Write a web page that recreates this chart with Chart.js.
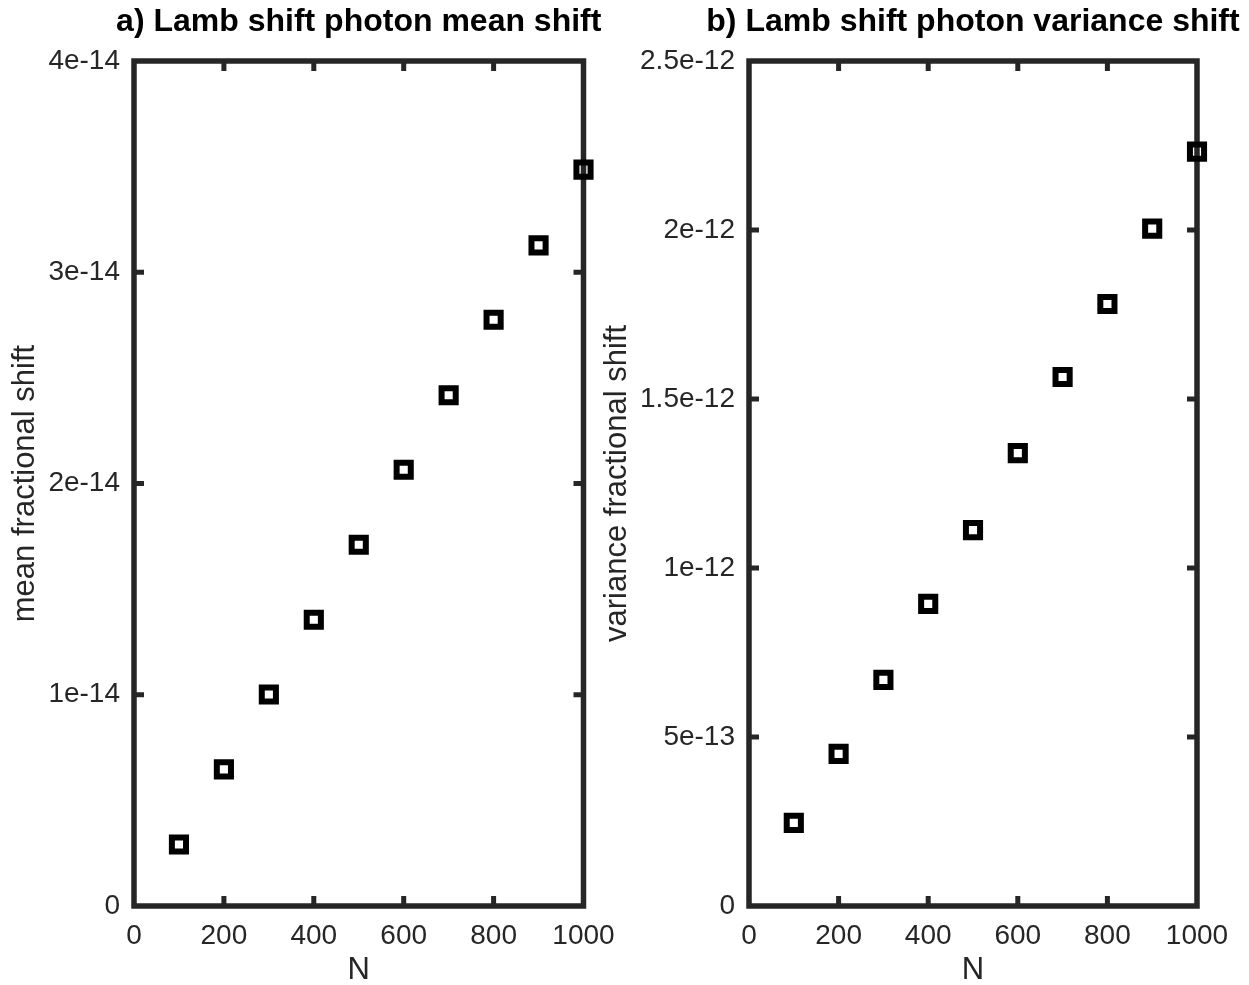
<!DOCTYPE html>
<html>
<head>
<meta charset="utf-8">
<title>Lamb shift photon shifts</title>
<script src="https://cdn.jsdelivr.net/npm/chart.js@4.4.1/dist/chart.umd.min.js"></script>
<style>
  html, body { margin: 0; padding: 0; background: #ffffff; }
  #wrap { position: relative; width: 1249px; height: 985px; overflow: hidden; }
  #wrap canvas { position: absolute; left: 0; top: 0; }
</style>
</head>
<body>
<div id="wrap">
  <canvas id="meanChart" width="1249" height="985"></canvas>
  <canvas id="varChart" width="1249" height="985"></canvas>
</div>
<script>
// Number of photons / atoms on the horizontal axis
const nValues = [100, 200, 300, 400, 500, 600, 700, 800, 900, 1000];

// a) mean fractional shift
const meanShift = [2.91e-15, 6.47e-15, 1.001e-14, 1.355e-14, 1.71e-14,
                   2.065e-14, 2.418e-14, 2.775e-14, 3.127e-14, 3.486e-14];

// b) variance fractional shift
const varianceShift = [2.46e-13, 4.50e-13, 6.69e-13, 8.94e-13, 1.112e-12,
                       1.340e-12, 1.565e-12, 1.781e-12, 2.004e-12, 2.232e-12];

// Axis ticks
const xTickValues = [0, 200, 400, 600, 800, 1000];
const xTickLabels = ['0', '200', '400', '600', '800', '1000'];
const meanTickValues = [0, 1e-14, 2e-14, 3e-14, 4e-14];
const meanTickLabels = ['0', '1e-14', '2e-14', '3e-14', '4e-14'];
const varTickValues = [0, 5e-13, 1e-12, 1.5e-12, 2e-12, 2.5e-12];
const varTickLabels = ['0', '5e-13', '1e-12', '1.5e-12', '2e-12', '2.5e-12'];

const FONT = "'Liberation Sans', Arial, Helvetica, sans-serif";
const AXIS_COLOR = '#262626';

// Boxed axes with inward tick marks on all four sides
const boxFrame = {
  id: 'boxFrame',
  beforeDatasetsDraw(chart) {
    const { ctx, chartArea: a, scales } = chart;
    const len = 10;
    ctx.save();
    ctx.strokeStyle = AXIS_COLOR;
    ctx.lineCap = 'butt';
    ctx.lineWidth = 5;
    ctx.beginPath();
    scales.x.ticks.forEach(t => {
      const px = scales.x.getPixelForValue(t.value);
      if (px <= a.left + 1 || px >= a.right - 1) return;
      ctx.moveTo(px, a.bottom); ctx.lineTo(px, a.bottom - len);
      ctx.moveTo(px, a.top); ctx.lineTo(px, a.top + len);
    });
    scales.y.ticks.forEach(t => {
      const py = scales.y.getPixelForValue(t.value);
      if (py <= a.top + 1 || py >= a.bottom - 1) return;
      ctx.moveTo(a.left, py); ctx.lineTo(a.left + len, py);
      ctx.moveTo(a.right, py); ctx.lineTo(a.right - len, py);
    });
    ctx.stroke();
    ctx.lineWidth = 5.5;
    ctx.lineJoin = 'miter';
    ctx.strokeRect(a.left, a.top, a.right - a.left, a.bottom - a.top);
    ctx.restore();
  }
};

// Bold panel title centred over the plot area, at its natural width
const panelTitle = {
  id: 'panelTitle',
  afterDraw(chart, args, opts) {
    const { ctx, chartArea: a } = chart;
    ctx.save();
    ctx.font = `bold ${opts.size}px ${FONT}`;
    ctx.fillStyle = opts.color;
    ctx.textAlign = 'center';
    ctx.textBaseline = 'alphabetic';
    ctx.fillText(opts.text, (a.left + a.right) / 2, opts.baseline);
    ctx.restore();
  }
};

function makePanel(canvasId, cfg) {
  const tickFont = { family: FONT, size: 28 };
  const labelFont = { family: FONT, size: 31 };
  return new Chart(document.getElementById(canvasId), {
    type: 'scatter',
    data: {
      datasets: [{
        data: nValues.map((n, i) => ({ x: n, y: cfg.values[i] })),
        pointStyle: 'rect',
        pointRadius: 10,
        pointHoverRadius: 10,
        pointBorderWidth: 6,
        pointBorderColor: '#000000',
        pointBackgroundColor: 'rgba(0,0,0,0)',
        showLine: false,
        clip: false
      }]
    },
    options: {
      responsive: false,
      animation: false,
      events: [],
      devicePixelRatio: 1,
      layout: { padding: { left: cfg.padLeft, right: cfg.padRight, top: 61, bottom: 0 } },
      plugins: {
        legend: { display: false },
        tooltip: { enabled: false },
        title: { display: false },
        panelTitle: { text: cfg.title, size: 32, color: '#000000', baseline: 31 }
      },
      scales: {
        x: {
          type: 'linear',
          min: 0, max: 1000,
          grid: { display: false, drawTicks: false },
          border: { display: false },
          afterBuildTicks: s => { s.ticks = xTickValues.map(v => ({ value: v })); },
          afterFit: s => { s.height = 79; },
          ticks: {
            padding: 13,
            color: AXIS_COLOR,
            font: tickFont,
            maxRotation: 0,
            autoSkip: false,
            callback: (v, i) => xTickLabels[i]
          },
          title: {
            display: true,
            text: 'N',
            color: AXIS_COLOR,
            font: labelFont,
            padding: { top: 0, bottom: -4 }
          }
        },
        y: {
          type: 'linear',
          min: 0, max: cfg.yMax,
          grid: { display: false, drawTicks: false },
          border: { display: false },
          afterBuildTicks: s => { s.ticks = cfg.tickValues.map(v => ({ value: v })); },
          afterFit: s => { s.width = cfg.axisLeft - cfg.padLeft; },
          ticks: {
            padding: 14,
            color: AXIS_COLOR,
            font: tickFont,
            autoSkip: false,
            callback: (v, i) => cfg.tickLabels[i]
          },
          title: {
            display: true,
            text: cfg.yLabel,
            color: AXIS_COLOR,
            font: labelFont,
            padding: { top: 7, bottom: 0 }
          }
        }
      }
    },
    plugins: [boxFrame, panelTitle]
  });
}

makePanel('meanChart', {
  title: 'a) Lamb shift photon mean shift',
  yLabel: 'mean fractional shift',
  values: meanShift,
  yMax: 4e-14,
  tickValues: meanTickValues,
  tickLabels: meanTickLabels,
  padLeft: 0,
  axisLeft: 134,
  padRight: 1249 - 583.5
});

makePanel('varChart', {
  title: 'b) Lamb shift photon variance shift',
  yLabel: 'variance fractional shift',
  values: varianceShift,
  yMax: 2.5e-12,
  tickValues: varTickValues,
  tickLabels: varTickLabels,
  padLeft: 592,
  axisLeft: 749,
  padRight: 1249 - 1197
});
</script>
</body>
</html>
